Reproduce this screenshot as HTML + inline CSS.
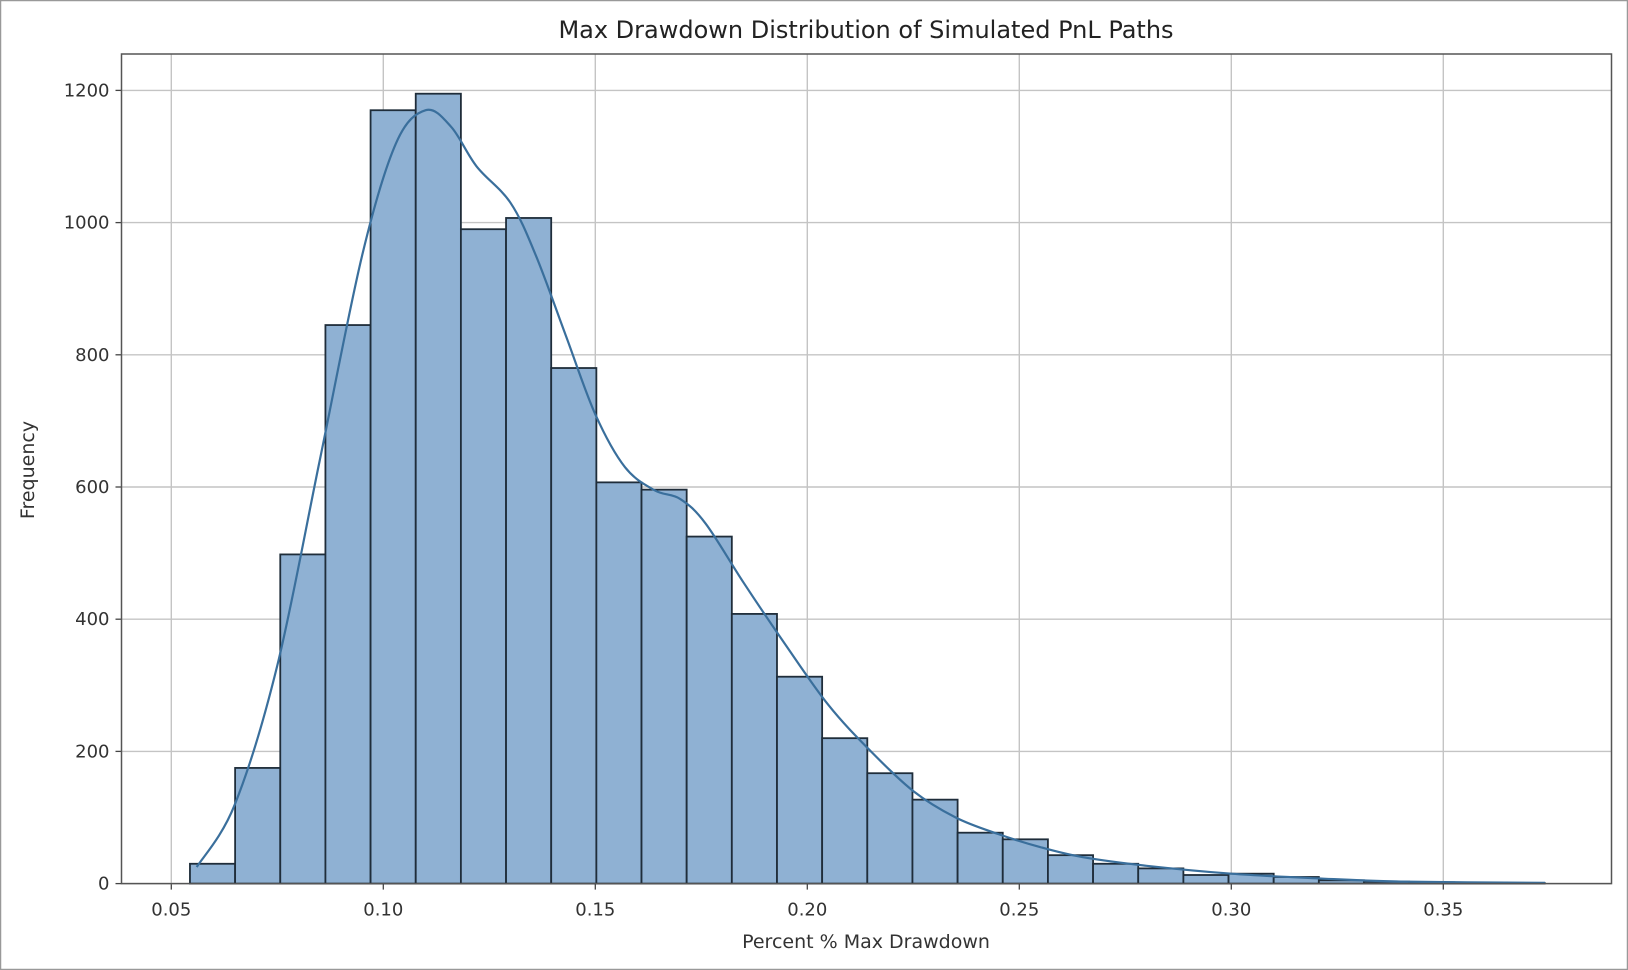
<!DOCTYPE html>
<html><head><meta charset="utf-8"><style>
html,body{margin:0;padding:0;background:#fff;}
svg{display:block;font-family:"DejaVu Sans","Liberation Sans",sans-serif;}
</style></head><body>
<svg id="s" width="1628" height="970" xmlns="http://www.w3.org/2000/svg">
<rect x="0" y="0" width="1628" height="970" fill="#fff"/>
<rect x="0.5" y="0.5" width="1627" height="969" fill="none" stroke="#999" stroke-width="1.5"/>
<g id="g"></g>
<text x="866" y="38" font-size="24" text-anchor="middle" fill="#222">Max Drawdown Distribution of Simulated PnL Paths</text>
<text x="866" y="948" font-size="19" text-anchor="middle" fill="#333">Percent % Max Drawdown</text>
<text transform="translate(34,470) rotate(-90)" font-size="19" text-anchor="middle" fill="#333">Frequency</text>
</svg>
<script>
var L=121.5,R=1611.5,T=54,B=883.6;
function X(v){return 171.3+(v-0.05)*4240;}
function Y(v){return B-v*0.661;}
var h='';
[0.05,0.10,0.15,0.20,0.25,0.30,0.35].forEach(function(v){var x=X(v);
h+='<line x1="'+x+'" y1="'+T+'" x2="'+x+'" y2="'+B+'" stroke="#c4c4c4" stroke-width="1.4"/>';
h+='<line x1="'+x+'" y1="'+B+'" x2="'+x+'" y2="'+(B+6)+'" stroke="#444" stroke-width="1.3"/>';
h+='<text x="'+x+'" y="'+(B+32)+'" font-size="18" text-anchor="middle" fill="#333">'+v.toFixed(2)+'</text>';});
[0,200,400,600,800,1000,1200].forEach(function(v){var y=Y(v);
h+='<line x1="'+L+'" y1="'+y+'" x2="'+R+'" y2="'+y+'" stroke="#c4c4c4" stroke-width="1.4"/>';
h+='<line x1="'+(L-6)+'" y1="'+y+'" x2="'+L+'" y2="'+y+'" stroke="#444" stroke-width="1.3"/>';
h+='<text x="'+(L-12)+'" y="'+(y+6)+'" font-size="18" text-anchor="end" fill="#333">'+v+'</text>';});
var hs=[30,175,498,845,1170,1195,990,1007,780,607,596,525,408,313,220,167,127,77,67,43,30,23,13,15,10,5,3,2,1,1];
var s=0.0544,w=0.01065;
hs.forEach(function(c,i){var x0=X(s+i*w),x1=X(s+(i+1)*w),y=Y(c);
h+='<rect x="'+x0+'" y="'+y+'" width="'+(x1-x0)+'" height="'+(B-y)+'" fill="#8fb1d3" stroke="#1f2d3a" stroke-width="1.8"/>';});
var k=[[0.056,25],[0.065,120],[0.075,330],[0.085,640],[0.095,950],[0.103,1120],[0.110,1170],[0.116,1145],[0.122,1085],[0.130,1030],[0.136,950],[0.143,830],[0.150,710],[0.157,630],[0.164,595],[0.170,582],[0.176,545],[0.185,455],[0.195,360],[0.205,270],[0.215,200],[0.225,140],[0.235,100],[0.245,75],[0.255,55],[0.265,40],[0.28,27],[0.30,15],[0.32,8],[0.34,3],[0.374,1]];
var P=k.map(function(p){return [X(p[0]),Y(p[1])];});
var d='M'+P[0][0].toFixed(1)+','+P[0][1].toFixed(1);
for(var i=0;i<P.length-1;i++){var p0=P[Math.max(0,i-1)],p1=P[i],p2=P[i+1],p3=P[Math.min(P.length-1,i+2)];
var c1=[p1[0]+(p2[0]-p0[0])/6,p1[1]+(p2[1]-p0[1])/6],c2=[p2[0]-(p3[0]-p1[0])/6,p2[1]-(p3[1]-p1[1])/6];
d+=' C'+c1[0].toFixed(1)+','+c1[1].toFixed(1)+' '+c2[0].toFixed(1)+','+c2[1].toFixed(1)+' '+p2[0].toFixed(1)+','+p2[1].toFixed(1);}
h+='<path d="'+d+'" fill="none" stroke="#3a6f9c" stroke-width="2.2" stroke-linejoin="round"/>';
h+='<rect x="'+L+'" y="'+T+'" width="'+(R-L)+'" height="'+(B-T)+'" fill="none" stroke="#555" stroke-width="1.5"/>';
document.getElementById('g').innerHTML=h;
</script>
</body></html>
